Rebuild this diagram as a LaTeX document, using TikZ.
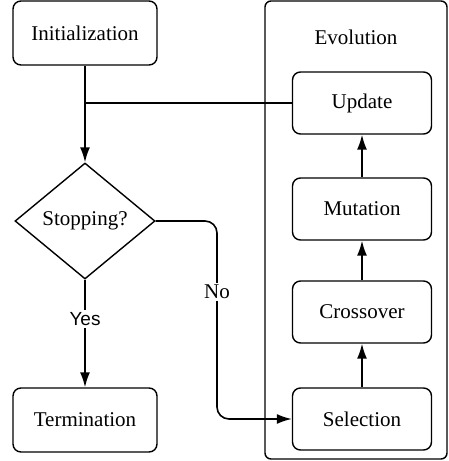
\documentclass[tikz,border=0pt]{standalone}
\usepackage{fontspec}
\setmainfont{Liberation Serif}
\newfontfamily\sansf{Liberation Sans}
\usetikzlibrary{arrows.meta,shapes.geometric}
\begin{document}
\begin{tikzpicture}[x=1pt,y=-1pt,
  txt/.style={font=\fontsize{21}{24}\selectfont},
  box/.style={txt,draw,rounded corners=8pt,line width=1.4pt,minimum width=144pt,minimum height=64pt,inner sep=0pt},
  ebox/.style={txt,draw,rounded corners=8pt,line width=1.4pt,minimum width=139pt,minimum height=62pt,inner sep=0pt},
  arrow/.style={line width=1.6pt,-{Latex[length=15pt,width=10pt]}},
  plain/.style={line width=1.4pt}]
\useasboundingbox (0,0) rectangle (449,461);
\node[draw,rounded corners=6pt,line width=1.4pt,minimum width=182pt,minimum height=458pt,inner sep=0pt] (evo) at (356,230) {};
\node[txt] (evolbl) at (356,37) {Evolution};
\node[box] (init) at (85,33) {Initialization};
\node[box] (term) at (85,420) {Termination};
\node[txt,draw,diamond,line width=1.4pt,inner sep=0pt,minimum width=140pt,minimum height=116pt] (stop) at (85,221) {Stopping?};
\node[ebox] (upd) at (362,103) {Update};
\node[ebox] (mut) at (362,209) {Mutation};
\node[ebox] (cro) at (362,312) {Crossover};
\node[ebox] (sel) at (362,419) {Selection};
\coordinate (merge) at (85,103);
\coordinate (nx) at (217,0);
\draw[plain] (upd.west) -- (merge);
\draw[arrow] (init.south) -- (stop.north);
\draw[arrow] (stop.south) -- (term.north);
\draw[arrow] (sel.north) -- (cro.south);
\draw[arrow] (cro.north) -- (mut.south);
\draw[arrow] (mut.north) -- (upd.south);
\draw[arrow,rounded corners=12pt] (stop.east) -| (nx |- sel.west) -- (sel.west);
\node[fill=white,inner sep=2pt,font=\sansf\fontsize{19}{21}\selectfont] (yes) at (85,319) {Yes};
\node[txt,fill=white,inner sep=2pt] (no) at (217,292) {No};
\end{tikzpicture}
\end{document}
